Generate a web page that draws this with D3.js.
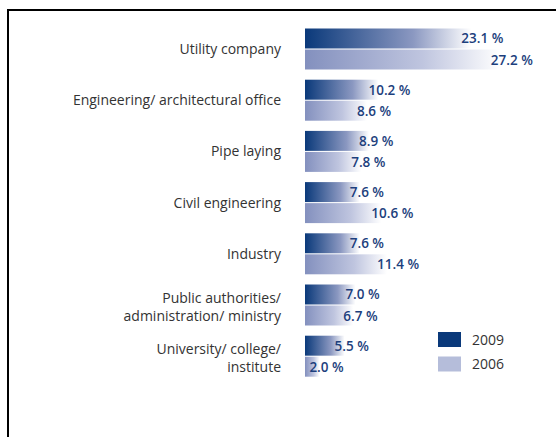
<!DOCTYPE html>
<html>
<head>
<meta charset="utf-8">
<script src="https://cdn.jsdelivr.net/npm/d3@7"></script>
<style>
  body { margin: 0; background: #fff; }
  svg { display: block; font-family: "Open Sans", "DejaVu Sans", sans-serif; }
</style>
</head>
<body>
<div id="chart"></div>
<script>
// categories (label lines) and values per year, in %
const categories = [
    ["Utility company"],
    ["Engineering/ architectural office"],
    ["Pipe laying"],
    ["Civil engineering"],
    ["Industry"],
    ["Public authorities/", "administration/ ministry"],
    ["University/ college/", "institute"]
];
const years = ["2009", "2006"];
const values2009 = [23.1, 10.2, 8.9, 7.6, 7.6, 7.0, 5.5];
const values2006 = [27.2, 8.6, 7.8, 10.6, 11.4, 6.7, 2.0];

const width = 556, height = 437;

const svg = d3.select("#chart").append("svg")
    .attr("width", width)
    .attr("height", height);

// frame (only top and left edges are visible)
svg.append("path")
    .attr("d", `M8,${height} V10 H${width}`)
    .attr("fill", "none")
    .attr("stroke", "#000")
    .attr("stroke-width", 2);

const defs = svg.append("defs");
const grad09 = defs.append("linearGradient").attr("id", "g2009");
grad09.append("stop").attr("offset", "0%").attr("stop-color", "#0a397a");
grad09.append("stop").attr("offset", "65%").attr("stop-color", "#8b98c1");
grad09.append("stop").attr("offset", "100%").attr("stop-color", "#ffffff");
const grad06 = defs.append("linearGradient").attr("id", "g2006");
grad06.append("stop").attr("offset", "0%").attr("stop-color", "#8390be");
grad06.append("stop").attr("offset", "60%").attr("stop-color", "#bfc5df");
grad06.append("stop").attr("offset", "100%").attr("stop-color", "#ffffff");

const rows = categories.map((c, i) => ({ label: c, v: [values2009[i], values2006[i]] }));

// step 51.2px, each pair of bars 41px tall
const step = 51.2, band = 41;
const y = d3.scaleBand()
    .domain(d3.range(categories.length))
    .range([28.5, 28.5 + step * (categories.length - 1) + band])
    .paddingInner((step - band) / step)
    .paddingOuter(0);

const yInner = d3.scaleBand()
    .domain(years)
    .range([0, y.bandwidth()])
    .paddingInner(0.05);

const x = d3.scaleLinear()
    .domain([0, 30])
    .range([305, 305 + 216]);

const group = svg.selectAll(".cat")
    .data(rows)
    .enter()
    .append("g")
    .attr("class", "cat")
    .attr("transform", (d, i) => `translate(0,${y(i)})`);

// category labels
group.append("text")
    .attr("x", 281)
    .attr("text-anchor", "end")
    .attr("fill", "#333")
    .style("font-size", "14px")
    .each(function (d) {
        const t = d3.select(this);
        const n = d.label.length;
        const mid = y.bandwidth() / 2 + (n > 1 ? 2 : 0);
        d.label.forEach((line, k) => {
            t.append("tspan")
                .attr("x", 281)
                .attr("y", mid + (k - (n - 1) / 2) * 17.5 + 5)
                .text(line);
        });
    });

years.forEach((yr, j) => {
    group.append("rect")
        .attr("x", x(0))
        .attr("y", yInner(yr))
        .attr("width", d => x(d.v[j]) - x(0))
        .attr("height", yInner.bandwidth())
        .attr("fill", `url(#g${yr})`);

    group.append("text")
        .attr("x", d => x(d.v[j]) - 10)
        .attr("y", yInner(yr) + yInner.bandwidth() / 2 + 5)
        .attr("fill", "#1d3f7d")
        .style("font-size", "13.5px")
        .style("font-weight", 600)
        .text(d => d.v[j].toFixed(1) + " %");
});

// legend
const legendColors = ["#0a397a", "#b5bdda"];
const legend = svg.selectAll(".legend")
    .data(years)
    .enter()
    .append("g")
    .attr("class", "legend")
    .attr("transform", (d, i) => `translate(438,${332 + i * 24.5})`);

legend.append("rect")
    .attr("width", 23)
    .attr("height", 15)
    .attr("fill", (d, i) => legendColors[i]);

legend.append("text")
    .attr("x", 34)
    .attr("y", 12.5)
    .attr("fill", "#333")
    .style("font-size", "14px")
    .text(d => d);
</script>
</body>
</html>
